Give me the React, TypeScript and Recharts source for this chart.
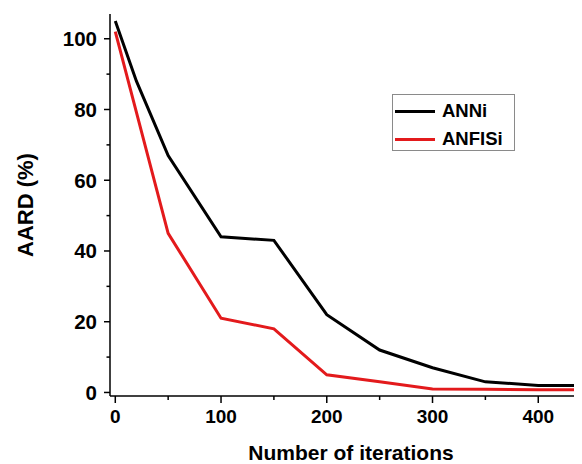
import React from 'react';
import { LineChart, Line, XAxis, YAxis, Legend } from 'recharts';

const annIterations = [0, 20, 50, 100, 150, 200, 250, 300, 350, 400, 450, 500];
const annAard = [105, 88, 67, 44, 43, 22, 12, 7, 3, 2, 2, 2];
const anfisIterations = [0, 50, 100, 150, 200, 250, 300, 350, 400, 450, 500];
const anfisAard = [102, 45, 21, 18, 5, 3, 1, 0.9, 0.8, 0.8, 0.8];

const xTicks = [0, 50, 100, 150, 200, 250, 300, 350, 400, 450];
const yTicks = [0, 10, 20, 30, 40, 50, 60, 70, 80, 90, 100];

const FONT = '"Liberation Sans", Arial, sans-serif';

const annData = annIterations.map((x, i) => ({ x, y: annAard[i] }));
const anfisData = anfisIterations.map((x, i) => ({ x, y: anfisAard[i] }));

// tick line + label drawn together so minor ticks can be shorter and unlabeled
function XTick(props: any) {
  const { x, y, payload } = props;
  const axisY = y - 14;
  const major = payload.value % 100 === 0;
  return (
    <g>
      <line x1={x} x2={x} y1={axisY} y2={axisY + (major ? 7 : 4)} stroke="#000" strokeWidth={1.5} />
      {major && (
        <text x={x} y={y} dy="0.71em" textAnchor="middle" fontFamily={FONT} fontWeight="bold" fontSize={19} fill="#000">
          {payload.value}
        </text>
      )}
    </g>
  );
}

function YTick(props: any) {
  const { x, y, payload } = props;
  const axisX = x + 13;
  const major = payload.value % 20 === 0;
  return (
    <g>
      <line x1={axisX - (major ? 6 : 3.5)} x2={axisX} y1={y} y2={y} stroke="#000" strokeWidth={1.5} />
      {major && (
        <text x={x} y={y} dy="0.355em" textAnchor="end" fontFamily={FONT} fontWeight="bold" fontSize={20.5} fill="#000">
          {payload.value}
        </text>
      )}
    </g>
  );
}

function LegendBox() {
  const items = [
    { name: 'ANNi', color: '#000' },
    { name: 'ANFISi', color: '#e31a1c' },
  ];
  return (
    <div
      style={{
        border: '1.5px solid #8a8a8a',
        width: 123,
        height: 57,
        boxSizing: 'border-box',
        background: '#fff',
        position: 'relative',
      }}
    >
      {items.map((it, i) => (
        <div
          key={it.name}
          style={{ position: 'absolute', left: 2, top: 4 + i * 28, height: 24, display: 'flex', alignItems: 'center' }}
        >
          <div style={{ width: 40, height: 3, background: it.color }} />
          <span style={{ marginLeft: 7, fontFamily: FONT, fontWeight: 'bold', fontSize: 18.5, color: '#000' }}>
            {it.name}
          </span>
        </div>
      ))}
    </div>
  );
}

export default function App() {
  return (
    <div style={{ width: 574, height: 456, overflow: 'hidden', background: '#fff' }}>
      <LineChart width={650} height={456} margin={{ top: 6, right: 14, left: 0, bottom: 0 }}>
        <XAxis
          xAxisId="top"
          orientation="top"
          type="number"
          domain={[-5, 500]}
          height={0}
          tick={false}
          tickLine={false}
          axisLine={{ stroke: '#666', strokeWidth: 1 }}
        />
        <XAxis
          dataKey="x"
          type="number"
          domain={[-5, 500]}
          allowDataOverflow
          ticks={xTicks}
          interval={0}
          height={68}
          tickSize={7}
          tickMargin={7}
          tickLine={false}
          tick={<XTick />}
          axisLine={{ stroke: '#000', strokeWidth: 1.5 }}
          label={{
            value: 'Number of iterations',
            position: 'bottom',
            offset: -19,
            dx: -26,
            style: { fontFamily: FONT, fontWeight: 'bold', fontSize: 21, fill: '#000' },
          }}
        />
        <YAxis
          type="number"
          domain={[-1, 107]}
          allowDataOverflow
          ticks={yTicks}
          interval={0}
          width={102}
          tickSize={6}
          tickMargin={7}
          tickLine={false}
          tick={<YTick />}
          axisLine={{ stroke: '#000', strokeWidth: 1.5 }}
          label={{
            value: 'AARD (%)',
            angle: -90,
            position: 'center',
            dx: -34,
            style: { fontFamily: FONT, fontWeight: 'bold', fontSize: 22, fill: '#000' },
          }}
        />
        <Legend
          layout="vertical"
          align="center"
          verticalAlign="middle"
          content={<LegendBox />}
          wrapperStyle={{ left: 384, top: 86, width: 123, height: 57, bottom: 'auto', right: 'auto' }}
        />
        <Line
          data={annData}
          dataKey="y"
          name="ANNi"
          type="linear"
          stroke="#000"
          strokeWidth={3}
          dot={false}
          isAnimationActive={false}
        />
        <Line
          data={anfisData}
          dataKey="y"
          name="ANFISi"
          type="linear"
          stroke="#e31a1c"
          strokeWidth={3}
          dot={false}
          isAnimationActive={false}
        />
      </LineChart>
    </div>
  );
}
